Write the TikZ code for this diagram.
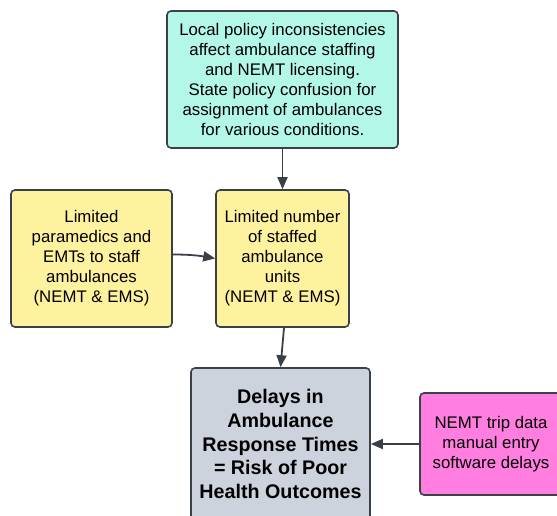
\documentclass[tikz,border=0pt]{standalone}
\usepackage{fontspec}
\setmainfont{Liberation Sans}
\usetikzlibrary{arrows.meta}
\definecolor{edgegray}{HTML}{3A4048}
\definecolor{mint}{HTML}{B3F7E8}
\definecolor{lemon}{HTML}{FFF29E}
\definecolor{slate}{HTML}{CDD3DC}
\definecolor{pink}{HTML}{FF7EDF}
\tikzset{
  box/.style={draw=edgegray, line width=1.6pt, rounded corners=4pt, align=center, inner sep=0pt, font=\fontsize{16.8}{20}\selectfont},
  link/.style={draw=edgegray, line width=1.8pt, -{Triangle[length=12pt,width=10pt]}}
}
\begin{document}
\begin{tikzpicture}[x=1pt,y=1pt]
            \useasboundingbox (0,0) rectangle (557,-516);
            \clip (0,0) rectangle (557,-516);
            \node[box, fill=mint, minimum width=231, minimum height=137] (policy) at (282.5,-79.5) {Local policy inconsistencies\\affect ambulance staffing\\and NEMT licensing.\\State policy confusion for\\assignment of ambulances\\for various conditions.};
            \node[box, fill=lemon, minimum width=161, minimum height=137] (staff) at (91.5,-258.5) {Limited\\paramedics and\\EMTs to staff\\ambulances\\(NEMT \& EMS)};
            \node[box, fill=lemon, minimum width=133, minimum height=137] (units) at (282.5,-258.5) {Limited number\\of staffed\\ambulance\\units\\(NEMT \& EMS)};
            \node[box, fill=slate, minimum width=179, minimum height=152, font=\fontsize{19.7}{23.7}\selectfont\bfseries] (delays) at (280.5,-444) {Delays in\\Ambulance\\Response Times\\= Risk of Poor\\Health Outcomes};
            \node[box, fill=pink, minimum width=142, minimum height=102] (nemt) at (491,-444) {NEMT trip data\\manual entry\\software delays};
            % Pfeile
            \draw[link] (policy.south) -- (units.north);
            \draw[link] ([yshift=4pt]staff.east) to[out=0,in=170] (units.west);
            \draw[link] ([xshift=1.5pt]units.south) -- (delays.north);
            \draw[link] (nemt.west) -- (delays.east);
        \end{tikzpicture}
\end{document}
